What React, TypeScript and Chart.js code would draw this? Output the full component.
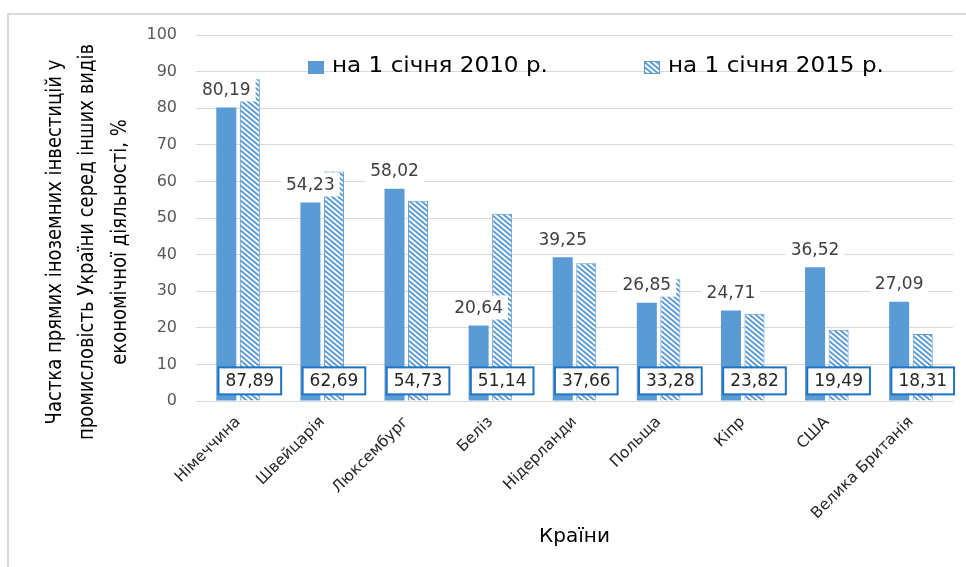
import React, { useEffect, useRef } from 'react';
import { Chart, registerables } from 'chart.js';

Chart.register(...registerables);

// ---- data ----
const categories = [
  'Німеччина',
  'Швейцарія',
  'Люксембург',
  'Беліз',
  'Нідерланди',
  'Польща',
  'Кіпр',
  'США',
  'Велика Британія',
];
const values2010 = [80.19, 54.23, 58.02, 20.64, 39.25, 26.85, 24.71, 36.52, 27.09];
const values2015 = [87.89, 62.69, 54.73, 51.14, 37.66, 33.28, 23.82, 19.49, 18.31];
const seriesNames = ['на 1 січня 2010 р.', 'на 1 січня 2015 р.'];
const yTitleLines = [
  'Частка прямих іноземних інвестицій у',
  'промисловість України серед інших видів',
  'економічної діяльності, %',
];
const xTitle = 'Країни';
const yMin = 0;
const yMax = 100;
const yStep = 10;

// ---- styles ----
const BLUE = '#5B9BD5';
const BOX_BLUE = '#1F74C0';
const FONT = '"DejaVu Sans", "Liberation Sans", sans-serif';
const W = 966;
const H = 567;

const fmt = (v: number) => v.toFixed(2).replace('.', ',');

function makeHatch(): CanvasPattern | string {
  const c = document.createElement('canvas');
  c.width = 6;
  c.height = 5;
  const g = c.getContext('2d');
  if (!g) return BLUE;
  g.fillStyle = '#ffffff';
  g.fillRect(0, 0, 6, 5);
  g.strokeStyle = BLUE;
  g.lineWidth = 1.9;
  g.beginPath();
  for (let k = -1; k <= 1; k++) {
    g.moveTo(-6, -5 + 5 * k);
    g.lineTo(12, 10 + 5 * k);
  }
  g.stroke();
  return g.createPattern(c, 'repeat') || BLUE;
}

const framePlugin = {
  id: 'frame',
  beforeDraw(chart: any) {
    const ctx = chart.ctx;
    ctx.save();
    ctx.fillStyle = '#ffffff';
    ctx.fillRect(0, 0, chart.width, chart.height);
    ctx.fillStyle = '#d9d9d9';
    ctx.fillRect(7, 13, chart.width - 7, 2);
    ctx.fillRect(7, 13, 2, chart.height - 13);
    ctx.restore();
  },
};

const yTitlePlugin = {
  id: 'yTitle',
  afterDraw(chart: any) {
    const ctx = chart.ctx;
    ctx.save();
    ctx.fillStyle = '#000000';
    ctx.font = `18px ${FONT}`;
    ctx.textAlign = 'center';
    ctx.textBaseline = 'middle';
    const xs = [55, 87, 120];
    const cy = 242;
    yTitleLines.forEach((line, i) => {
      ctx.save();
      ctx.translate(xs[i], cy);
      ctx.rotate(-Math.PI / 2);
      ctx.scale(1, 1.18);
      ctx.fillText(line, 0, 0);
      ctx.restore();
    });
    ctx.restore();
  },
};

const legendPlugin = {
  id: 'customLegend',
  afterDraw(chart: any, _args: any, opts: any) {
    const ctx = chart.ctx;
    const hatch = opts.hatch;
    ctx.save();
    ctx.font = `21px ${FONT}`;
    ctx.textBaseline = 'middle';
    ctx.textAlign = 'left';
    const cy = 67;
    const items = [
      { x: 308, fill: BLUE, border: false },
      { x: 644, fill: hatch, border: true },
    ];
    items.forEach((it, i) => {
      ctx.fillStyle = it.fill;
      ctx.fillRect(it.x, cy - 6, 16, 13);
      if (it.border) {
        ctx.strokeStyle = BLUE;
        ctx.lineWidth = 1;
        ctx.strokeRect(it.x + 0.5, cy - 5.5, 15, 12);
      }
      ctx.fillStyle = '#000000';
      ctx.save();
      ctx.translate(it.x + 24, cy);
      ctx.scale(1.1, 1);
      ctx.fillText(seriesNames[i], 0, 0);
      ctx.restore();
    });
    ctx.restore();
  },
};

const valueLabelsPlugin = {
  id: 'valueLabels',
  afterDatasetsDraw(chart: any) {
    const ctx = chart.ctx;
    const m0 = chart.getDatasetMeta(0);
    const m1 = chart.getDatasetMeta(1);
    const yScale = chart.scales.y;
    ctx.save();
    ctx.font = `17px ${FONT}`;
    ctx.textAlign = 'center';
    ctx.textBaseline = 'middle';
    m0.data.forEach((bar: any, i: number) => {
      const txt = fmt(values2010[i]);
      const w = ctx.measureText(txt).width + 10;
      const h = 24;
      const cx = bar.x;
      const cy = bar.y - 6 - h / 2;
      ctx.fillStyle = '#ffffff';
      ctx.fillRect(cx - w / 2, cy - h / 2, w, h);
      ctx.fillStyle = '#404040';
      ctx.fillText(txt, cx, cy + 1);
    });
    const ly = yScale.getPixelForValue(5.5);
    m1.data.forEach((bar: any, i: number) => {
      const txt = fmt(values2015[i]);
      const w = ctx.measureText(txt).width + 14;
      const h = 27;
      const cx = bar.x;
      ctx.fillStyle = '#ffffff';
      ctx.fillRect(cx - w / 2, ly - h / 2, w, h);
      ctx.strokeStyle = BOX_BLUE;
      ctx.lineWidth = 2;
      ctx.strokeRect(cx - w / 2, ly - h / 2, w, h);
      ctx.fillStyle = '#262626';
      ctx.fillText(txt, cx, ly + 1);
    });
    ctx.restore();
  },
};

export default function App() {
  const ref = useRef<HTMLCanvasElement | null>(null);

  useEffect(() => {
    document.body.style.margin = '0';
    const canvas = ref.current;
    if (!canvas) return;
    const hatch = makeHatch();
    const chart = new Chart(canvas, {
      type: 'bar',
      data: {
        labels: categories,
        datasets: [
          {
            label: seriesNames[0],
            data: values2010,
            backgroundColor: BLUE,
            borderWidth: 0,
            categoryPercentage: 0.56,
            barPercentage: 0.85,
          },
          {
            label: seriesNames[1],
            data: values2015,
            backgroundColor: hatch as any,
            borderColor: BLUE,
            borderWidth: 1,
            categoryPercentage: 0.56,
            barPercentage: 0.85,
          },
        ],
      },
      options: {
        animation: false,
        responsive: false,
        devicePixelRatio: 1,
        layout: { padding: { left: 0, right: 13, top: 35, bottom: 14 } },
        plugins: {
          legend: { display: false },
          tooltip: { enabled: false },
          customLegend: { hatch },
        } as any,
        scales: {
          x: {
            grid: { display: false },
            border: { display: false },
            ticks: {
              minRotation: 45,
              maxRotation: 45,
              autoSkip: false,
              padding: 4,
              color: '#262626',
              font: { family: FONT, size: 15.5 },
            },
            title: {
              display: true,
              text: xTitle,
              color: '#000000',
              font: { family: FONT, size: 20 },
              padding: { top: 0, bottom: 4 },
            },
            afterFit: (s: any) => {
              s.height = 152;
            },
          },
          y: {
            min: yMin,
            max: yMax,
            ticks: {
              stepSize: yStep,
              padding: 19,
              color: '#595959',
              font: { family: FONT, size: 16 },
            },
            grid: { color: '#d9d9d9', drawTicks: false },
            border: { display: false },
            afterFit: (s: any) => {
              s.width = 196;
            },
          },
        },
      },
      plugins: [framePlugin, valueLabelsPlugin, legendPlugin, yTitlePlugin],
    });
    return () => chart.destroy();
  }, []);

  return (
    <div style={{ width: W, height: H, position: 'relative' }}>
      <canvas ref={ref} width={W} height={H} style={{ width: W, height: H, display: 'block' }} />
    </div>
  );
}
